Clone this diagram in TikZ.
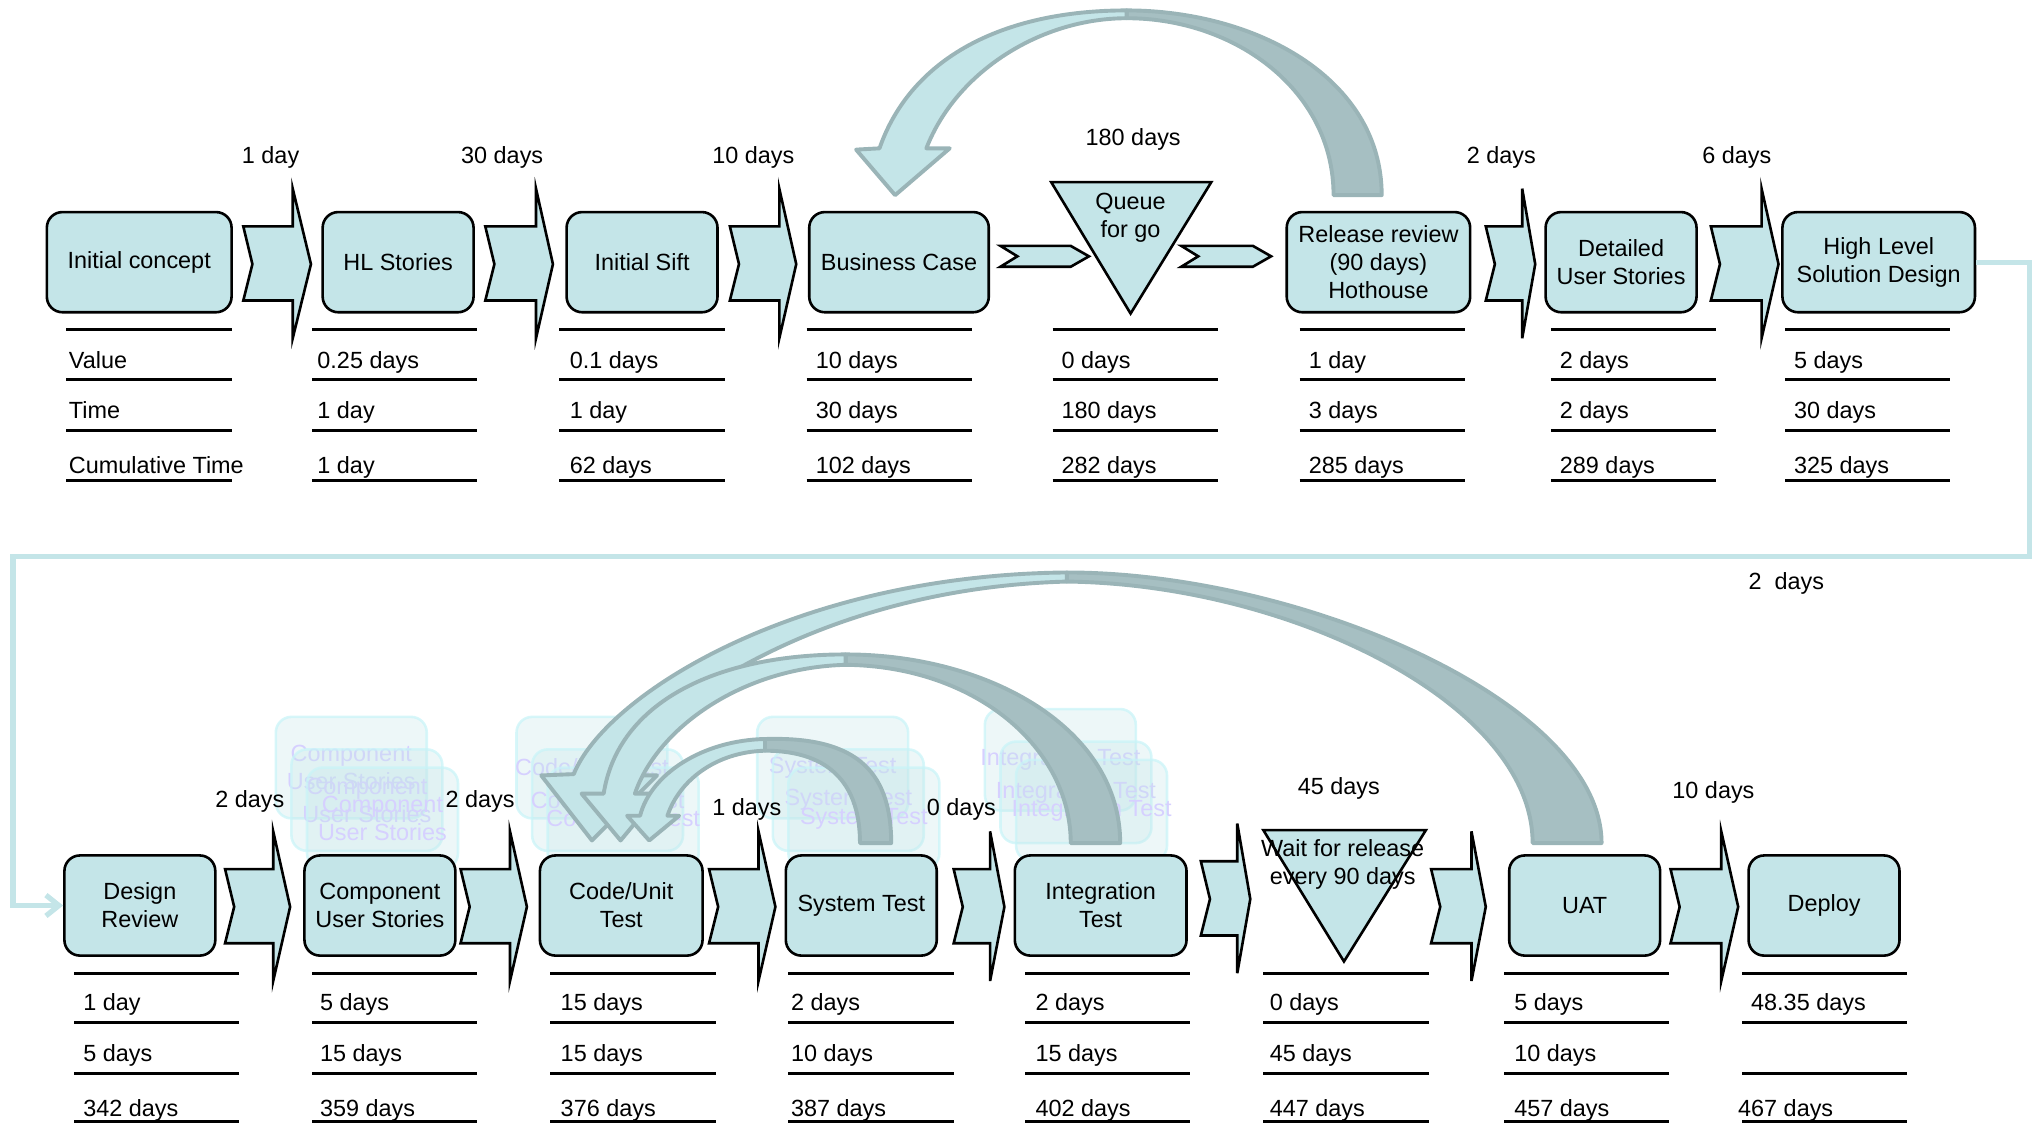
\documentclass[tikz,border=0pt]{standalone}
\usepackage{fontspec}
\setmainfont{Liberation Sans}
\usetikzlibrary{arrows.meta}

\definecolor{stagefill}{RGB}{196,229,232}
\definecolor{loopfill}{RGB}{166,191,194}
\definecolor{loopline}{RGB}{154,180,183}
\definecolor{ghosttext}{RGB}{214,208,255}
\definecolor{ghostline}{RGB}{200,244,248}

\begin{document}
\begin{tikzpicture}[x = 0.5pt, y = -0.5pt, line width = 1pt,
                    font = \fontsize{9}{10.75}\selectfont,
                    stage/.style = {rectangle, rounded corners = 6pt, draw, fill = stagefill,
                                    minimum width = 58pt, minimum height = 38.5pt, align = center},
                    ghost/.style = {rectangle, rounded corners = 6pt, draw = ghostline, fill = stagefill,
                                    fill opacity = 0.3, draw opacity = 0.7,
                                    minimum width = 58pt, minimum height = 39pt},
                    ghostword/.style = {text = ghosttext, align = center},
                    push/.style = {draw, fill = stagefill},
                    datum/.style = {anchor = base west, inner sep = 0pt},
                    delay/.style = {anchor = base, inner sep = 0pt},
                    loopfront/.style = {draw = loopline, fill = stagefill, line width = 1.5pt, line join = round},
                    loopback/.style = {draw = loopline, fill = loopfill, line width = 1.5pt, line join = round},
                    feed/.style = {draw = stagefill, line width = 2pt,
                                   -{Straight Barb[length = 5pt, width = 8pt]}}]
  \useasboundingbox (0, 0) rectangle (1568, 863);

  % faded copies above the lower row
  \foreach \gx/\gy/\gt [count = \n] in {212/550/{Component\\User Stories}, 397/550/{Code/Unit Test},
                                        582/550/{System Test}, 757/544/{Integration Test}}
    \foreach \dx/\dy [count = \m] in {0/0, 12/25, 24/39}
    {
      \node [ghost] (G\n\m) at (\gx+58+\dx, \gy+40+\dy) {};
      \node [ghostword] (W\n\m) at (G\n\m) {\gt};
    }

  % upper row
  \node [stage, minimum width = 71pt] (B11) at (107, 201.5) {Initial concept};
  \node [stage] (B12) at (306, 201.5) {HL Stories};
  \node [stage] (B13) at (493.5, 201.5) {Initial Sift};
  \node [stage, minimum width = 69pt] (B14) at (691, 201.5) {Business Case};
  \draw [fill = stagefill] (808, 140) -- (931, 140) -- (869, 241) -- cycle;
  \node [align = center] (B15) at (869, 167) {Queue\\for go};
  \node [stage, minimum width = 70.5pt] (B16) at (1059.5, 201.5) {Release review\\(90 days)\\Hothouse};
  \node [stage] (B17) at (1246, 201.5) {Detailed\\User Stories};
  \node [stage, minimum width = 74pt] (B18) at (1444, 201.5) {High Level\\Solution Design};

  % lower row
  \node [stage] (B21) at (107.5, 696) {Design\\Review};
  \node [stage] (B22) at (292, 696) {Component\\User Stories};
  \node [stage, minimum width = 62.5pt] (B23) at (477.5, 696) {Code/Unit\\Test};
  \node [stage] (B24) at (662, 696) {System Test};
  \node [stage, minimum width = 66pt] (B25) at (846, 696) {Integration\\Test};
  \draw [fill = stagefill] (971, 638) -- (1096, 638) -- (1033, 739) -- cycle;
  \node [align = center] (B26) at (1032, 664.5) {Wait for release\\every 90 days};
  \node [stage] (B27) at (1218, 696) {UAT};
  \node [stage] (B28) at (1402, 696) {Deploy};

  \draw [feed] (B18.east) -| (1560, 428) -- (10, 428) |- (B21.west);

  % push arrows
  \foreach \l/\s/\t/\c in {187/225/239/203, 373/412/425/203, 561/599/612/203, 1142/1170/1180/203,
                           1315/1354/1367/203, 173/210/223/697, 354/392/405/697, 545/583/596/697,
                           733/761/772/697, 923/951/961/691, 1100/1131/1142/697, 1284/1323/1336/697}
    \draw [push] (\l, \c-29) -- (\s, \c-29) -- (\s, \c-58) -- (\t, \c) -- (\s, \c+57)
                 -- (\s, \c+28) -- (\l, \c+28) -- (\l+7, \c) -- cycle;
  \foreach \l/\t in {769/837, 908/977}
    \draw [push] (\l, 189) -- (\t-14, 189) -- (\t, 197) -- (\t-14, 205) -- (\l, 205) -- (\l+13, 197) -- cycle;

  % data boxes
  \foreach \lx in {51, 240, 430, 620, 809, 999, 1192, 1372}
    \foreach \y in {253, 292, 331, 369}
      \draw [line width = 1.2pt] (\lx, \y) -- ++(127, 0);
  \foreach \lx in {57, 240, 423, 606, 788, 971, 1156, 1339}
    \foreach \y in {748, 786, 825, 862}
      \draw [line width = 1.2pt] (\lx, \y) -- ++(127, 0);

  \foreach \tx/\va/\vb/\vc [count = \n] in {52/Value/Time/Cumulative Time, 243/0.25 days/1 day/1 day,
                                          437/0.1 days/1 day/62 days, 626/10 days/30 days/102 days,
                                          815/0 days/180 days/282 days, 1005/1 day/3 days/285 days,
                                          1198/2 days/2 days/289 days, 1378/5 days/30 days/325 days}
  {
    \node [datum] (V1\n) at (\tx, 283) {\va};
    \node [datum] (T1\n) at (\tx, 322) {\vb};
    \node [datum] (C1\n) at (\tx, 364) {\vc};
  }
  \foreach \tx/\va/\vb/\vc [count = \n] in {63/1 day/5 days/342 days, 245/5 days/15 days/359 days,
                                          430/15 days/15 days/376 days, 607/2 days/10 days/387 days,
                                          795/2 days/15 days/402 days, 975/0 days/45 days/447 days,
                                          1163/5 days/10 days/457 days}
  {
    \node [datum] (V2\n) at (\tx, 777) {\va};
    \node [datum] (T2\n) at (\tx, 816) {\vb};
    \node [datum] (C2\n) at (\tx, 858) {\vc};
  }
  \node [datum] (V28) at (1345, 777) {48.35 days};
  \node [datum] (C28) at (1335, 858) {467 days};

  % waiting times
  \node [delay] (D1) at (208, 126) {1 day};
  \node [delay] (D2) at (386, 126) {30 days};
  \node [delay] (D3) at (579, 126) {10 days};
  \node [delay] (D4) at (871, 112) {180 days};
  \node [delay] (D5) at (1154, 126) {2 days};
  \node [delay] (D6) at (1335, 126) {6 days};
  \node [delay] (D7) at (1373, 453) {2~~days};
  \node [delay] (D8) at (192, 621) {2 days};
  \node [delay] (D9) at (369, 621) {2 days};
  \node [delay] (D10) at (574, 627) {1 days};
  \node [delay] (D11) at (739, 627) {0 days};
  \node [delay] (D12) at (1029, 611) {45 days};
  \node [delay] (D13) at (1317, 614) {10 days};

  % rework loops
  \draw [loopback] (866, 8) .. controls (965, 8) and (1062, 60) .. (1062, 150) -- (1025, 150)
                   .. controls (1025, 70) and (950, 14) .. (866, 14) -- cycle;
  \draw [loopfront] (866, 8) .. controls (770, 8) and (700, 45) .. (676, 114) -- (658, 115) -- (688, 150)
                    -- (730, 114) -- (712, 114) .. controls (735, 55) and (800, 14) .. (866, 14) -- cycle;

  \draw [loopback] (820, 440) .. controls (1000, 440) and (1231, 540) .. (1231, 648) -- (1178, 648)
                   .. controls (1178, 540) and (990, 449) .. (820, 447) -- cycle;
  \draw [loopfront] (820, 440) .. controls (610, 442) and (465, 535) .. (441, 595) -- (416, 596) -- (455, 646)
                    -- (505, 596) -- (473, 596) .. controls (500, 545) and (630, 452) .. (820, 447) -- cycle;

  \draw [loopback] (650, 503) .. controls (760, 503) and (861, 560) .. (861, 648) -- (823, 648)
                   .. controls (823, 575) and (750, 512) .. (650, 511) -- cycle;
  \draw [loopfront] (650, 503) .. controls (550, 503) and (475, 540) .. (464, 610) -- (447, 610) -- (477, 646)
                    -- (507, 610) -- (488, 610) .. controls (505, 560) and (570, 513) .. (650, 511) -- cycle;

  \draw [loopback] (588, 568) .. controls (655, 566) and (685, 590) .. (685, 648) -- (661, 648)
                   .. controls (661, 605) and (640, 577) .. (588, 577) -- cycle;
  \draw [loopfront] (588, 568) .. controls (540, 569) and (500, 595) .. (492, 627) -- (482, 627) -- (499, 646)
                    -- (522, 627) -- (513, 627) .. controls (522, 600) and (550, 578) .. (588, 577) -- cycle;
\end{tikzpicture}
\end{document}
